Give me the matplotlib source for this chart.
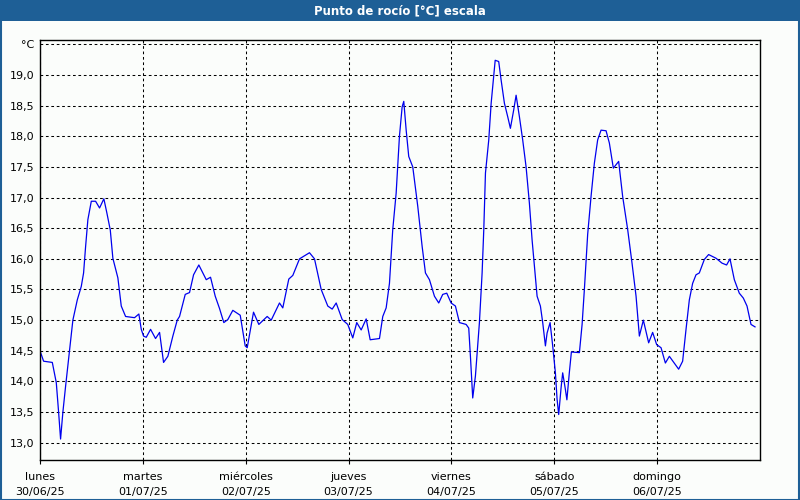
import matplotlib
matplotlib.use("Agg")
import matplotlib.pyplot as plt
from matplotlib.patches import Rectangle

# hours since lunes 00:00 and dew point in °C
hours = [0.0, 0.84, 2.87, 3.80, 4.34, 4.80, 5.34, 5.97, 6.90, 7.67, 8.70, 9.63,
         10.17, 10.64, 11.17, 11.97, 12.97, 13.90, 14.90, 15.60, 16.40, 17.00, 18.17,
         18.96, 19.97, 22.06, 23.07, 23.63, 24.16, 24.79, 25.80, 26.96, 27.90, 28.83,
         29.83, 31.00, 32.02, 32.56, 33.89, 34.89, 35.83, 37.06, 38.79, 39.79, 40.89,
         41.89, 42.89, 43.83, 44.99, 46.72, 47.88, 48.35, 49.82, 51.06, 53.01, 53.95,
         55.88, 56.65, 58.05, 58.99, 60.55, 62.88, 64.05, 65.61, 67.15, 68.18, 69.11,
         70.51, 71.81, 72.98, 73.91, 74.94, 76.11, 77.04, 79.21, 79.98, 80.77, 81.54,
         82.31, 83.10, 83.87, 84.50, 84.88, 85.44, 86.04, 86.98, 88.14, 89.17, 89.94,
         90.87, 92.04, 93.04, 93.97, 94.91, 95.93, 96.93, 97.87, 99.43, 100.04, 100.44,
         100.97, 101.60, 102.53, 103.16, 103.55, 103.94, 104.71, 105.27, 106.21, 107.03,
         107.59, 108.36, 109.13, 109.76, 110.53, 111.09, 111.86, 112.63, 113.42, 114.19,
         114.82, 115.36, 115.99, 116.76, 117.30, 117.93, 118.32, 119.02, 119.63, 120.26,
         120.65, 121.03, 121.59, 121.96, 122.59, 122.94, 123.52, 123.99, 125.86, 126.49,
         127.02, 127.79, 128.58, 129.35, 130.12, 130.91, 132.08, 132.85, 133.78, 135.02,
         135.95, 137.12, 138.14, 139.08, 139.85, 140.78, 142.02, 142.95, 143.89, 144.91,
         145.92, 146.85, 149.02, 149.95, 150.74, 151.51, 152.28, 153.07, 153.84, 155.01,
         156.01, 157.74, 159.14, 160.21, 161.00, 162.01, 163.17, 164.11, 164.97, 165.90,
         166.84]
dew_point = [14.50, 14.33, 14.31, 13.98, 13.50, 13.06, 13.50, 13.92, 14.52, 15.00, 15.33, 15.55,
             15.77, 16.20, 16.64, 16.94, 16.94, 16.83, 16.98, 16.75, 16.47, 16.01, 15.69,
             15.23, 15.06, 15.04, 15.10, 14.85, 14.74, 14.72, 14.85, 14.70, 14.80, 14.31,
             14.41, 14.74, 15.00, 15.06, 15.42, 15.45, 15.74, 15.90, 15.66, 15.70, 15.39,
             15.19, 14.96, 15.01, 15.16, 15.08, 14.58, 14.55, 15.13, 14.93, 15.06, 15.00,
             15.28, 15.20, 15.67, 15.73, 16.00, 16.10, 16.00, 15.50, 15.23, 15.18, 15.28,
             15.01, 14.93, 14.71, 14.96, 14.84, 15.02, 14.68, 14.70, 15.06, 15.20, 15.60,
             16.48, 17.07, 18.00, 18.48, 18.57, 18.10, 17.67, 17.50, 16.86, 16.20, 15.77,
             15.66, 15.39, 15.28, 15.42, 15.44, 15.28, 15.23, 14.96, 14.93, 14.87, 14.40,
             13.73, 14.09, 14.96, 15.77, 16.48, 17.40, 17.94, 18.54, 19.24, 19.22,
             18.92, 18.54, 18.32, 18.13, 18.43, 18.67, 18.32, 17.94, 17.50, 16.91,
             16.31, 15.88, 15.39, 15.23, 14.96, 14.58, 14.79, 14.96, 14.58, 14.14,
             13.71, 13.46, 13.90, 14.14, 13.87, 13.70, 14.15, 14.48, 14.47, 14.93,
             15.50, 16.40, 17.02, 17.56, 17.94, 18.10, 18.09, 17.89, 17.48, 17.59,
             17.02, 16.48, 15.93, 15.39, 14.74, 15.00, 14.63, 14.80, 14.60, 14.55,
             14.30, 14.41, 14.20, 14.33, 14.85, 15.33, 15.60, 15.74, 15.77, 15.99,
             16.07, 16.01, 15.93, 15.90, 16.00, 15.66, 15.44, 15.36, 15.23, 14.93,
             14.89]

day_names = ["lunes", "martes", "miércoles", "jueves", "viernes", "sábado", "domingo"]
day_dates = ["30/06/25", "01/07/25", "02/07/25", "03/07/25", "04/07/25", "05/07/25", "06/07/25"]
y_ticks = [13.0, 13.5, 14.0, 14.5, 15.0, 15.5, 16.0, 16.5, 17.0, 17.5, 18.0, 18.5, 19.0, 19.5]

bg = "#fbfdfb"
bar_color = "#1e5f96"

fig = plt.figure(figsize=(8, 5), dpi=100, facecolor=bg)

# barra de título
fig.patches.append(Rectangle((0, 1 - 21 / 500), 1, 21 / 500, transform=fig.transFigure,
                             facecolor=bar_color, edgecolor="none", zorder=0))
fig.text(0.5, 1 - 10.5 / 500, "Punto de rocío [°C] escala", color="white",
         fontsize=8.5, fontweight="bold", ha="center", va="center")
# borde
fig.patches.append(Rectangle((0.0008, 0.001), 0.9984, 0.999, transform=fig.transFigure,
                             facecolor="none", edgecolor=bar_color, linewidth=1.5, zorder=5))

ax = fig.add_axes([40 / 800, 40 / 500, 720 / 800, 420 / 500], facecolor=bg)

ax.plot(hours, dew_point, color="#0000ee", linewidth=0.9)

ax.set_xlim(0, 168)
ax.set_ylim(12.718, 19.571)

ax.set_xticks([24 * i for i in range(7)])
ax.set_xticklabels([f"{n}\n{d}" for n, d in zip(day_names, day_dates)], fontsize=8,
                   linespacing=1.6)
ax.set_yticks(y_ticks)
ax.set_yticklabels([f"{v:.1f}".replace(".", ",") for v in y_ticks[:-1]] + ["°C"], fontsize=8)

ax.tick_params(axis="x", length=3, width=0.8, pad=6, color="black")
ax.tick_params(axis="y", length=0, pad=4)

# Сетка
ax.grid(True, color="black", linestyle=(0, (2.6, 2.6)), linewidth=0.75)

for s in ax.spines.values():
    s.set_color("black")
    s.set_linewidth(1.0)

plt.savefig("out.png", dpi=100, facecolor=bg)
